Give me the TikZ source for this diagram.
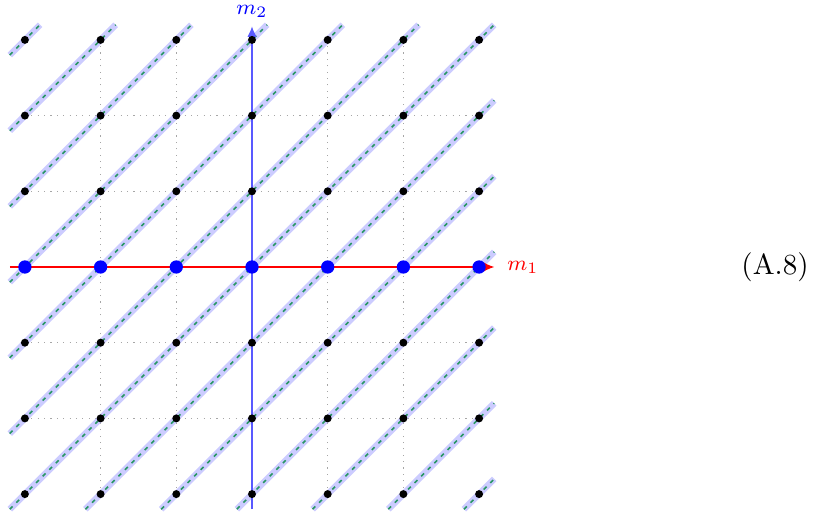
\documentclass[tikz,border=0pt]{standalone}
\usetikzlibrary{arrows.meta}
\definecolor{dashgreen}{RGB}{40,150,100}
\begin{document}
\begin{tikzpicture}[x=1cm,y=1cm,
  gridline/.style={gray!70, dotted, line width=0.4pt},
  band/.style={blue!20, line width=2.4pt},
  bandline/.style={dashgreen, dash pattern=on 1.5pt off 2pt, line width=0.6pt},
  dot/.style={circle, fill=black, inner sep=0pt, minimum size=3pt},
  bigdot/.style={circle, fill=blue, inner sep=0pt, minimum size=5pt},
  axlabel/.style={font=\footnotesize, inner sep=1pt}
]
\useasboundingbox (-3.329,-3.236) rectangle (7.530,3.527);
% dotted grid
\foreach \i in {-2,...,2}{
  \draw[gridline] (\i,-3) -- (\i,3);
  \draw[gridline] (-3,\i) -- (3,\i);
}
% diagonal lines y = x + k
\foreach \k in {-6,...,6}{
  \pgfmathsetmacro\xa{max(-3.2,-3.2-\k)}
  \pgfmathsetmacro\xb{min(3.2,3.2-\k)}
  \coordinate (da\the\numexpr\k+6\relax) at ({\xa},{\xa+\k});
  \coordinate (db\the\numexpr\k+6\relax) at ({\xb},{\xb+\k});
  \draw[band] (da\the\numexpr\k+6\relax) -- (db\the\numexpr\k+6\relax);
  \draw[bandline] (da\the\numexpr\k+6\relax) -- (db\the\numexpr\k+6\relax);
}
% axes
\coordinate (xs) at (-3.2,0);
\coordinate (xe) at (3.2,0);
\coordinate (ys) at (0,-3.2);
\coordinate (ye) at (0,3.18);
\draw[blue!65, line width=0.5pt, -{Latex[length=4pt,width=3.5pt]}] (ys) -- (ye);
\draw[red, line width=0.4pt, -{Latex[length=4pt,width=3.5pt]}] (xs) -- (xe);
\node[axlabel, text=red] (m1) at (3.58,0) {$m_1$};
\node[axlabel, text=blue] (m2) at (0,3.37) {$m_2$};
% lattice points
\foreach \i in {-3,...,3}{
  \foreach \j in {-3,...,3}{
    \ifnum\j=0
      \node[bigdot] (p\the\numexpr\i+3\relax\the\numexpr\j+3\relax) at (\i,\j) {};
    \else
      \node[dot] (p\the\numexpr\i+3\relax\the\numexpr\j+3\relax) at (\i,\j) {};
    \fi
  }
}
% equation number
\node[font=\fontsize{10.95}{13.6}\selectfont] (eqno) at (6.91,0) {(A.8)};
\end{tikzpicture}
\end{document}
